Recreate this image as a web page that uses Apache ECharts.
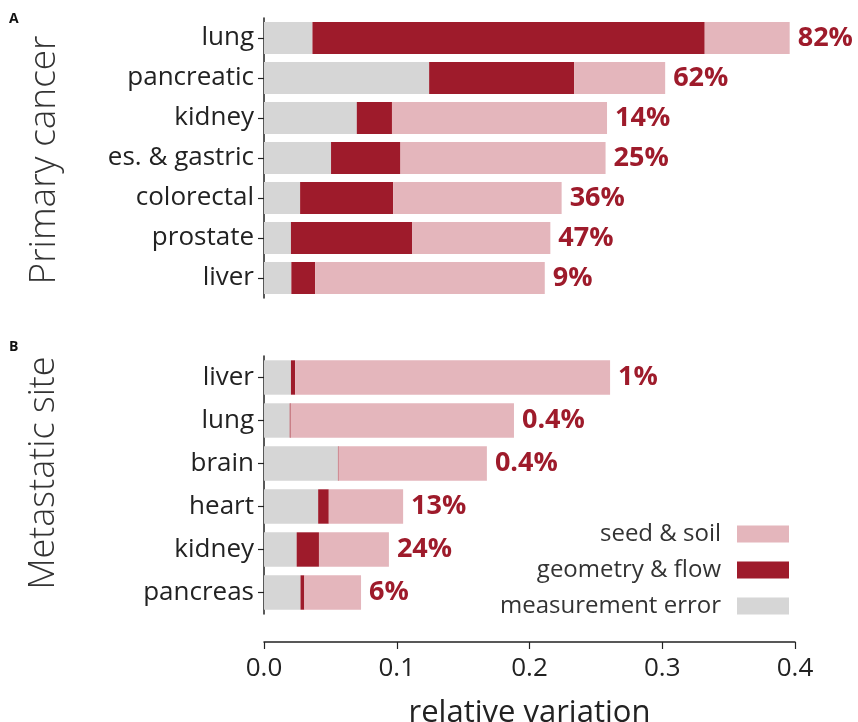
<!DOCTYPE html>
<html><head><meta charset="utf-8">
<script src="https://cdn.jsdelivr.net/npm/echarts@6/dist/echarts.min.js"></script>
<style>html,body{margin:0;padding:0;background:#fff}#c{width:858px;height:722px}</style>
</head><body><div id="c"></div>
<script>
// Panel A: primary cancer (top to bottom)
const primaryCats = ['lung','pancreatic','kidney','es. & gastric','colorectal','prostate','liver'];
const primaryMeasurement = [0.0365, 0.1244, 0.0699, 0.0505, 0.0272, 0.0203, 0.0206];
const primaryGeometry   = [0.2955, 0.1093, 0.0265, 0.0523, 0.0701, 0.0914, 0.0179];
const primarySeed       = [0.0640, 0.0685, 0.1620, 0.1545, 0.1269, 0.1040, 0.1730];
const primaryPct = ['82%','62%','14%','25%','36%','47%','9%'];
// Panel B: metastatic site
const metaCats = ['liver','lung','brain','heart','kidney','pancreas'];
const metaMeasurement = [0.0203, 0.0194, 0.0557, 0.0408, 0.0246, 0.0275];
const metaGeometry    = [0.0032, 0.0007, 0.0005, 0.0080, 0.0168, 0.0029];
const metaSeed        = [0.2372, 0.1682, 0.1117, 0.0560, 0.0527, 0.0427];
const metaPct = ['1%','0.4%','0.4%','13%','24%','6%'];
const xTicks = [0, 0.1, 0.2, 0.3, 0.4];

const C_GRAY = '#d6d6d6', C_DARK = '#9e1b2b', C_PINK = '#e4b6bc';
const FONT = 'Open Sans';
const chart = echarts.init(document.getElementById('c'));

function bars(gi, name, data, color, pct) {
  const s = {
    type: 'bar', name, stack: 'g' + gi, xAxisIndex: gi, yAxisIndex: gi,
    data, barCategoryGap: '20%', itemStyle: { color }, silent: true
  };
  if (pct) {
    s.label = { show: true, position: 'right', distance: 8,
      formatter: p => pct[p.dataIndex],
      color: C_DARK, fontFamily: FONT, fontWeight: 'bold', fontSize: 27 };
  }
  return s;
}

const yBase = {
  type: 'category', inverse: true,
  axisLine: { show: true, lineStyle: { color: '#222', width: 1.5 } },
  axisTick: { show: true, length: 6, alignWithLabel: true, lineStyle: { color: '#222', width: 1.2 } },
  axisLabel: { color: '#222', fontFamily: FONT, fontSize: 26, margin: 10 },
  splitLine: { show: false }
};

chart.setOption({
  animation: false,
  grid: [
    { left: 264, right: 63, top: 18, height: 280, outerBoundsMode: 'none', containLabel: false },
    { left: 264, right: 63, top: 356, height: 258, outerBoundsMode: 'none', containLabel: false }
  ],
  xAxis: [
    { gridIndex: 0, type: 'value', min: 0, max: 0.4, interval: 0.1, show: false },
    { gridIndex: 1, type: 'value', min: 0, max: 0.4, interval: 0.1, offset: 28,
      axisLine: { show: true, lineStyle: { color: '#222', width: 1.5 } },
      axisTick: { show: true, length: 7, lineStyle: { color: '#222', width: 1.2 } },
      axisLabel: { color: '#222', fontFamily: FONT, fontSize: 26, margin: 14,
        formatter: v => v.toFixed(1) },
      splitLine: { show: false },
      name: 'relative variation', nameLocation: 'middle', nameGap: 56,
      nameTextStyle: { color: '#222', fontFamily: FONT, fontSize: 31 } }
  ],
  yAxis: [
    Object.assign({}, yBase, { gridIndex: 0, data: primaryCats }),
    Object.assign({}, yBase, { gridIndex: 1, data: metaCats })
  ],
  legend: {
    orient: 'vertical', right: 69, top: 522, align: 'right', padding: 0,
    itemWidth: 52, itemHeight: 17, itemGap: 12, icon: 'rect',
    data: ['seed & soil', 'geometry & flow', 'measurement error'],
    textStyle: { color: '#333', fontFamily: FONT, fontSize: 24, padding: [0, 11, 0, 0] },
    selectedMode: false
  },
  graphic: [
    { type: 'text', left: 9, top: 12, style: { text: 'A', font: 'bold 14px ' + FONT, fill: '#111' } },
    { type: 'text', left: 9, top: 340, style: { text: 'B', font: 'bold 14px ' + FONT, fill: '#111' } },
    { type: 'text', x: 44, y: 160, rotation: Math.PI / 2,
      style: { text: 'Primary cancer', font: '300 37px ' + FONT, fill: '#333', align: 'center', verticalAlign: 'middle' } },
    { type: 'text', x: 44, y: 473, rotation: Math.PI / 2,
      style: { text: 'Metastatic site', font: '300 36px ' + FONT, fill: '#333', align: 'center', verticalAlign: 'middle' } }
  ],
  series: [
    bars(0, 'measurement error', primaryMeasurement, C_GRAY),
    bars(0, 'geometry & flow', primaryGeometry, C_DARK),
    bars(0, 'seed & soil', primarySeed, C_PINK, primaryPct),
    bars(1, 'measurement error', metaMeasurement, C_GRAY),
    bars(1, 'geometry & flow', metaGeometry, C_DARK),
    bars(1, 'seed & soil', metaSeed, C_PINK, metaPct)
  ]
});
</script></body></html>
